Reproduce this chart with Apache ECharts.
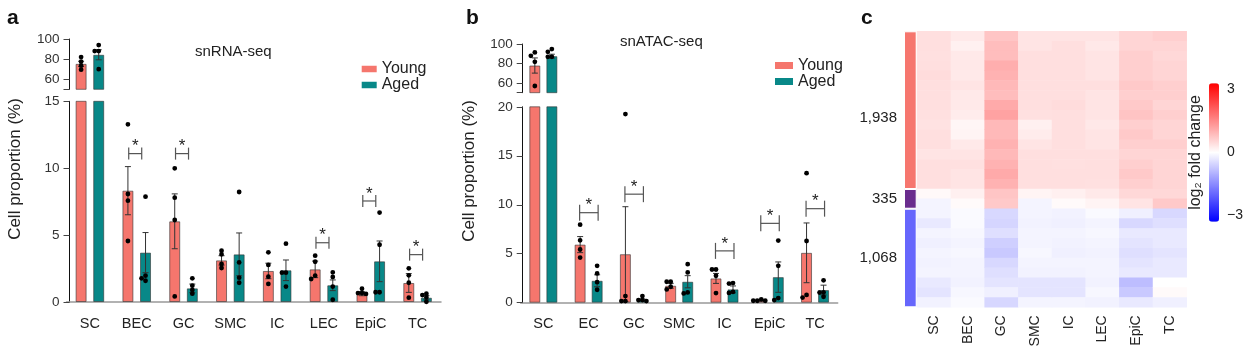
<!DOCTYPE html>
<html>
<head>
<meta charset="utf-8">
<title>Cell proportions, young vs aged</title>
<script src="https://cdn.jsdelivr.net/npm/echarts@6/dist/echarts.min.js"></script>
<style>
  html, body { margin: 0; padding: 0; background: #fff; }
  #chart { width: 1249px; height: 351px; }
</style>
</head>
<body>
<div id="chart"></div>
<script>
// ---- panel a: snRNA-seq ----
var catsA = ['SC', 'BEC', 'GC', 'SMC', 'IC', 'LEC', 'EpiC', 'TC'];
var youngA = [75.3, 8.32, 6.03, 3.11, 2.32, 2.44, 0.62, 1.42];
var agedA = [84.3, 3.69, 1.02, 3.56, 2.37, 1.25, 3.04, 0.32];
var youngErrA = [2.6, 1.8, 2.05, 0.35, 0.58, 0.62, 0.15, 0.7];
var agedErrA = [5.0, 1.5, 0.32, 1.6, 0.77, 0.4, 1.52, 0.15];
var youngPtsA = [[82, 77.5, 73.5, 69.5], [13.28, 8.07, 7.57, 4.56], [9.99, 7.8, 6.13, 0.42], [3.83, 3.56, 2.84, 2.54],
  [3.71, 2.77, 1.89, 1.35], [3.46, 3.01, 1.97, 1.72], [0.99, 0.67, 0.67, 0.6], [2.52, 1.99, 1.44, 0.32]];
var agedPtsA = [[94, 88, 88, 70], [7.87, 1.97, 1.77, 1.59], [1.77, 1.22, 0.9, 0.62], [8.22, 2.96, 1.82, 1.44],
  [4.36, 2.19, 2.19, 1.15], [2.22, 1.87, 1.15, 0.17], [6.68, 4.28, 0.73, 0.73], [0.62, 0.52, 0.35, 0.02]];
var sigA = [[1, 11.09], [2, 11.09], [5, 4.43], [6, 7.55], [7, 3.54]];

// ---- panel b: snATAC-seq ----
var catsB = ['SC', 'EC', 'GC', 'SMC', 'IC', 'EpiC', 'TC'];
var youngB = [77.9, 5.93, 4.95, 1.73, 2.48, 0.22, 5.09];
var agedB = [87.5, 2.24, 0.3, 2.14, 1.36, 2.61, 1.29];
var youngErrB = [7.8, 0.82, 4.85, 0.25, 0.51, 0.05, 3.05];
var agedErrB = [2.0, 0.61, 0.08, 0.62, 0.35, 1.55, 0.5];
var youngPtsB = [[91.4, 87.9, 81.7, 56.9], [7.97, 6.37, 5.43, 4.61], [19.26, 0.68, 0.17, 0.17], [2.14, 2.14, 1.63, 1.36],
  [3.39, 3.39, 2.75, 0.98], [0.34, 0.2, 0.2, 0.2], [13.22, 6.3, 0.79, 0.52]];
var agedPtsB = [[94.8, 92, 86.8, 86.8], [3.76, 2.99, 2.1, 1.32], [0.68, 0.27, 0.27, 0.17], [3.93, 3.09, 1.05, 0.95],
  [2.0, 1.95, 1.1, 1.0], [6.34, 3.76, 0.47, 0.27], [2.28, 1.06, 1.03, 0.61]];
var sigB = [[1, 9.19], [2, 11.08], [4, 5.29], [5, 8.1], [6, 9.6]];

// ---- panel c: log2 fold change heatmap (28 row bands, top to bottom) ----
var heatCols = ['SC', 'BEC', 'GC', 'SMC', 'IC', 'LEC', 'EpiC', 'TC'];
var heatSC = [0.42, 0.42, 0.4, 0.42, 0.45, 0.42, 0.42, 0.42, 0.4, 0.38, 0.42, 0.42, 0.35, 0.42, 0.42, 0.42,
  0.08, -0.14, -0.14, -0.28, -0.14, -0.2, -0.14, -0.17, -0.14, -0.28, -0.35, -0.17];
var heatBEC = [0.28, 0.2, 0.28, 0.3, 0.28, 0.35, 0.28, 0.28, 0.25, 0.12, 0.14, 0.28, 0.35, 0.4, 0.35, 0.35,
  0.2, 0.07, -0.07, -0.07, -0.1, -0.14, -0.1, -0.14, -0.14, -0.17, -0.1, -0.07];
var heatGC = [0.75, 0.85, 0.85, 1.05, 1.0, 0.9, 0.85, 1.1, 1.2, 0.9, 0.9, 1.0, 0.9, 1.0, 1.1, 1.0,
  0.75, 0.7, -0.5, -0.55, -0.42, -0.62, -0.7, -0.5, -0.42, -0.35, -0.2, -0.52];
var heatSMC = [0.35, 0.35, 0.42, 0.42, 0.42, 0.42, 0.42, 0.42, 0.4, 0.2, 0.25, 0.35, 0.42, 0.42, 0.42, 0.42,
  0.14, -0.14, -0.14, -0.17, -0.14, -0.14, -0.1, -0.14, -0.17, -0.35, -0.35, -0.14];
var heatIC = [0.35, 0.42, 0.42, 0.42, 0.42, 0.42, 0.42, 0.45, 0.42, 0.42, 0.42, 0.42, 0.42, 0.4, 0.42, 0.42,
  0.2, 0.07, -0.17, -0.2, -0.14, -0.17, -0.2, -0.14, -0.17, -0.35, -0.35, -0.14];
var heatLEC = [0.35, 0.3, 0.35, 0.35, 0.35, 0.42, 0.35, 0.35, 0.35, 0.3, 0.35, 0.35, 0.42, 0.42, 0.42, 0.4,
  0.28, 0.14, -0.07, -0.14, -0.1, -0.14, -0.17, -0.14, -0.14, -0.17, -0.1, -0.17];
var heatEpiC = [0.55, 0.55, 0.62, 0.62, 0.62, 0.7, 0.62, 0.7, 0.77, 0.62, 0.7, 0.62, 0.55, 0.62, 0.7, 0.62,
  0.5, 0.35, -0.2, -0.5, -0.28, -0.35, -0.42, -0.35, -0.28, -0.85, -0.7, -0.28];
var heatTC = [0.62, 0.55, 0.5, 0.55, 0.55, 0.62, 0.62, 0.55, 0.62, 0.55, 0.55, 0.62, 0.55, 0.55, 0.55, 0.55,
  0.5, 0.7, -0.5, -0.42, -0.28, -0.28, -0.35, -0.28, -0.28, 0.0, 0.07, -0.2];
var heatValues = [heatSC, heatBEC, heatGC, heatSMC, heatIC, heatLEC, heatEpiC, heatTC];
var groupNames = ['1,938', '335', '1,068'];
var groupRows = [16, 2, 10];
var groupColors = ['#F6766E', '#6A2C8E', '#6666FC'];

var YOUNG = '#F5766D';
var AGED = '#088888';
var FONT = '"Liberation Sans", Arial, sans-serif';

function barSeries(name, xi, yi, data, color) {
  return {
    type: 'bar', name: name, xAxisIndex: xi, yAxisIndex: yi, data: data,
    barWidth: 11, barGap: xi < 2 ? '60%' : '55%',
    itemStyle: { color: color, borderColor: 'rgba(50,50,50,0.6)', borderWidth: 1 },
    z: 2
  };
}

function errorSeries(xi, yi, means, errs, shift) {
  return {
    type: 'custom', xAxisIndex: xi, yAxisIndex: yi, z: 4, silent: true,
    data: means.map(function (m, i) { return [i, m, errs[i]]; }),
    renderItem: function (params, api) {
      var cs = params.coordSys;
      var c = api.coord([api.value(0), api.value(1)]);
      if (c[1] < cs.y - 1 || c[1] > cs.y + cs.height + 1) return null;
      var hi = api.coord([api.value(0), api.value(1) + api.value(2)]);
      var lo = api.coord([api.value(0), api.value(1) - api.value(2)]);
      var x = c[0] + shift;
      var st = { stroke: '#333', lineWidth: 1 };
      return { type: 'group', children: [
        { type: 'line', shape: { x1: x, y1: hi[1], x2: x, y2: lo[1] }, style: st },
        { type: 'line', shape: { x1: x - 3, y1: hi[1], x2: x + 3, y2: hi[1] }, style: st },
        { type: 'line', shape: { x1: x - 3, y1: lo[1], x2: x + 3, y2: lo[1] }, style: st }
      ] };
    }
  };
}

function pointSeries(xi, yi, pts, shift) {
  var data = [];
  pts.forEach(function (g, i) { g.forEach(function (v, k) { data.push([i, v, k]); }); });
  return {
    type: 'custom', xAxisIndex: xi, yAxisIndex: yi, z: 5, silent: true, data: data,
    renderItem: function (params, api) {
      var cs = params.coordSys;
      var i = api.value(0), k = api.value(2);
      var ys = pts[i].map(function (v) { return api.coord([i, v])[1]; });
      // small dodge so coinciding dots sit side by side
      var cand = [0, -4, 4, -8, 8];
      var offs = [];
      for (var j = 0; j <= k; j++) {
        offs[j] = 0;
        for (var t = 0; t < cand.length; t++) {
          var ok = true;
          for (var q = 0; q < j; q++) {
            if (Math.abs(ys[q] - ys[j]) < 3.5 && Math.abs(offs[q] - cand[t]) < 3.5) { ok = false; break; }
          }
          if (ok) { offs[j] = cand[t]; break; }
        }
      }
      var y = ys[k];
      if (y < cs.y - 2 || y > cs.y + cs.height + 3) return null;
      var x = api.coord([i, 0])[0] + shift + offs[k];
      return { type: 'circle', shape: { cx: x, cy: y, r: 2.4 }, style: { fill: '#000' } };
    }
  };
}

function sigSeries(xi, yi, sig, left, right, tick) {
  return {
    type: 'custom', xAxisIndex: xi, yAxisIndex: yi, z: 6, silent: true, data: sig,
    renderItem: function (params, api) {
      var c = api.coord([api.value(0), api.value(1)]);
      var x1 = c[0] + left, x2 = c[0] + right, y = c[1];
      var st = { stroke: '#555', lineWidth: 1.2 };
      return { type: 'group', children: [
        { type: 'line', shape: { x1: x1, y1: y, x2: x2, y2: y }, style: st },
        { type: 'line', shape: { x1: x1, y1: y - tick, x2: x1, y2: y + tick }, style: st },
        { type: 'line', shape: { x1: x2, y1: y - tick, x2: x2, y2: y + tick }, style: st },
        { type: 'text', x: (x1 + x2) / 2, y: y - 15.5,
          style: { text: '*', fontSize: 17, fontFamily: FONT, fill: '#222', align: 'center', verticalAlign: 'top' } }
      ] };
    }
  };
}

function yAxisUpper(grid, off) {
  return {
    gridIndex: grid, type: 'value', min: 50, max: 100, offset: off,
    axisLine: { show: true, lineStyle: { color: '#111' } },
    axisTick: { show: true, length: 6, customValues: [50, 60, 80, 100], lineStyle: { color: '#444' } },
    axisLabel: { customValues: [60, 80, 100], color: '#333', fontSize: 13.5, margin: 10 },
    splitLine: { show: false }
  };
}
function yAxisLower(grid, max, off) {
  return {
    gridIndex: grid, type: 'value', min: 0, max: max, interval: 5, offset: off,
    axisLine: { show: true, lineStyle: { color: '#111' } },
    axisTick: { show: true, length: 6, lineStyle: { color: '#444' } },
    axisLabel: { color: '#333', fontSize: 13.5, margin: 10 },
    splitLine: { show: false }
  };
}
function xAxisHidden(grid, cats) {
  return { gridIndex: grid, type: 'category', data: cats, show: false };
}
function xAxisBars(grid, cats) {
  return {
    gridIndex: grid, type: 'category', data: cats,
    axisLine: { lineStyle: { color: '#999', width: 1.5 } },
    axisTick: { alignWithLabel: true, length: 6, lineStyle: { color: '#333' } },
    axisLabel: { color: '#222', fontSize: 14.5, margin: 14 }
  };
}

var heatData = [];
heatValues.forEach(function (col, ci) {
  col.forEach(function (v, ri) { heatData.push([ci, ri, v]); });
});
var rowIds = heatSC.map(function (v, i) { return String(i); });

var series = [];
// panel a
series.push(barSeries('Young', 0, 0, youngA, YOUNG), barSeries('Aged', 0, 0, agedA, AGED));
series.push(barSeries('Young', 1, 1, youngA, YOUNG), barSeries('Aged', 1, 1, agedA, AGED));
[0, 1].forEach(function (g) {
  series.push(errorSeries(g, g, youngA, youngErrA, -8.8), errorSeries(g, g, agedA, agedErrA, 8.8));
  series.push(pointSeries(g, g, youngPtsA, -8.8), pointSeries(g, g, agedPtsA, 8.8));
});
series.push(sigSeries(1, 1, sigA, -8, 5, 6));
// panel b
series.push(barSeries('Young', 2, 2, youngB, YOUNG), barSeries('Aged', 2, 2, agedB, AGED));
series.push(barSeries('Young', 3, 3, youngB, YOUNG), barSeries('Aged', 3, 3, agedB, AGED));
[2, 3].forEach(function (g) {
  series.push(errorSeries(g, g, youngB, youngErrB, -8.5), errorSeries(g, g, agedB, agedErrB, 8.5));
  series.push(pointSeries(g, g, youngPtsB, -8.5), pointSeries(g, g, agedPtsB, 8.5));
});
series.push(sigSeries(3, 3, sigB, -9, 9.5, 8));
// panel c: group annotation
groupNames.forEach(function (name, i) {
  series.push({
    type: 'bar', name: name, xAxisIndex: 4, yAxisIndex: 4, stack: 'grp', barWidth: '100%',
    data: [groupRows[i]], silent: true,
    itemStyle: { color: groupColors[i], borderColor: '#fff', borderWidth: 1 },
    label: { show: true, position: 'left', distance: 7, formatter: name, fontSize: 15, color: '#222',
      offset: [0, i === 0 ? 8 : 0] }
  });
});
var heatIndex = series.length;
series.push({ type: 'heatmap', xAxisIndex: 5, yAxisIndex: 5, data: heatData, silent: true });

var option = {
  animation: false,
  textStyle: { fontFamily: FONT },
  grid: [
    { left: 66.5, top: 39, width: 374.5, height: 50.3, outerBoundsMode: 'none' },
    { left: 66.5, top: 101.3, width: 374.5, height: 200.7, outerBoundsMode: 'none' },
    { left: 520.7, top: 44, width: 317, height: 48.7, outerBoundsMode: 'none' },
    { left: 520.7, top: 106.8, width: 317, height: 195.9, outerBoundsMode: 'none' },
    { left: 904, top: 31.3, width: 12.7, height: 276, outerBoundsMode: 'none' },
    { left: 917.3, top: 31.3, width: 269.4, height: 276, outerBoundsMode: 'none' },
    { left: 1209, top: 83.3, width: 10, height: 138.4, outerBoundsMode: 'none' }
  ],
  xAxis: [
    xAxisHidden(0, catsA), xAxisBars(1, catsA),
    xAxisHidden(2, catsB), xAxisBars(3, catsB),
    { gridIndex: 4, type: 'category', data: ['group'], show: false },
    { gridIndex: 5, type: 'category', data: heatCols,
      axisLine: { show: false }, axisTick: { show: false },
      axisLabel: { rotate: 90, color: '#222', fontSize: 14, margin: 8 } },
    { gridIndex: 6, type: 'value', show: false }
  ],
  yAxis: [
    yAxisUpper(0, -3), yAxisLower(1, 15, -3),
    yAxisUpper(2, -2), yAxisLower(3, 20, -2),
    { gridIndex: 4, type: 'value', min: 0, max: 28, inverse: true, show: false },
    { gridIndex: 5, type: 'category', data: rowIds, inverse: true, show: false },
    { gridIndex: 6, type: 'value', min: -3.3, max: 3.3, position: 'right',
      axisLine: { show: false }, axisTick: { show: false }, splitLine: { show: false },
      axisLabel: { customValues: [3, 0, -3], color: '#222', fontSize: 14, margin: 8,
        formatter: function (v) { return v < 0 ? '\u2212' + Math.abs(v) : String(v); } } },
    { gridIndex: 6, type: 'value', min: -3.3, max: 3.3, position: 'left',
      axisLine: { show: false }, axisTick: { show: false }, splitLine: { show: false }, axisLabel: { show: false },
      name: 'log\u2082 fold change', nameLocation: 'middle', nameRotate: 90, nameGap: 5,
      nameTextStyle: { fontSize: 16, color: '#222' } }
  ],
  visualMap: {
    type: 'continuous', seriesIndex: heatIndex, min: -3.3, max: 3.3, calculable: false,
    orient: 'vertical', left: 1209, top: 83.3, itemWidth: 10, itemHeight: 138.4, padding: 0,
    inRange: { color: ['#0000FF', '#FFFFFF', '#FF0000'] }
  },
  legend: [
    { data: ['Young', 'Aged'], orient: 'vertical', left: 361.7, top: 61, padding: 0, itemGap: 0,
      itemWidth: 15, itemHeight: 6.5, icon: 'rect', itemStyle: { borderWidth: 0 },
      textStyle: { fontSize: 16, lineHeight: 14, color: '#222' } },
    { data: ['Young', 'Aged'], orient: 'vertical', left: 775, top: 57.5, padding: 0, itemGap: 0,
      itemWidth: 18, itemHeight: 7, icon: 'rect', itemStyle: { borderWidth: 0 },
      textStyle: { fontSize: 16, lineHeight: 16, color: '#222' } }
  ],
  graphic: [
    { type: 'text', x: 7, y: 18.7, style: { text: 'a', font: 'bold 21px ' + FONT, fill: '#111', verticalAlign: 'middle' } },
    { type: 'text', x: 466, y: 18.7, style: { text: 'b', font: 'bold 21px ' + FONT, fill: '#111', verticalAlign: 'middle' } },
    { type: 'text', x: 861, y: 18, style: { text: 'c', font: 'bold 21px ' + FONT, fill: '#111', verticalAlign: 'middle' } },
    { type: 'text', x: 195, y: 51.5, style: { text: 'snRNA-seq', font: '15px ' + FONT, fill: '#222', verticalAlign: 'middle' } },
    { type: 'text', x: 620, y: 41.7, style: { text: 'snATAC-seq', font: '15px ' + FONT, fill: '#222', verticalAlign: 'middle' } },
    { type: 'text', x: 15, y: 169, rotation: Math.PI / 2,
      style: { text: 'Cell proportion (%)', font: '17px ' + FONT, fill: '#222', align: 'center', verticalAlign: 'middle' } },
    { type: 'text', x: 469, y: 171, rotation: Math.PI / 2,
      style: { text: 'Cell proportion (%)', font: '17px ' + FONT, fill: '#222', align: 'center', verticalAlign: 'middle' } }
  ],
  series: series
};

var myChart = echarts.init(document.getElementById('chart'));
myChart.setOption(option);
</script>
</body>
</html>
